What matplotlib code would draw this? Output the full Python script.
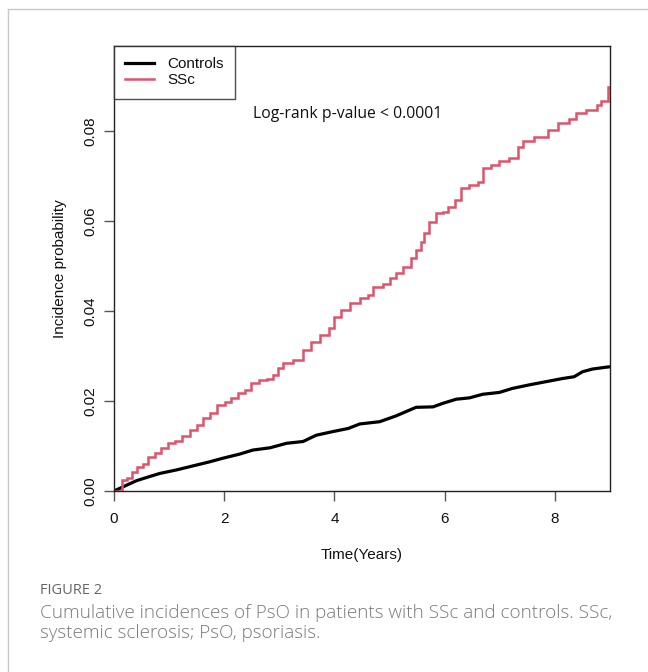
import matplotlib
matplotlib.use("Agg")
import matplotlib.pyplot as plt
from matplotlib.lines import Line2D

plt.rcParams['font.family'] = ['Liberation Sans', 'DejaVu Sans']

# SSc cumulative incidence (time in years, probability)
ssc_time = [0, 0.02, 0.14, 0.23, 0.32, 0.41, 0.53, 0.62, 0.74, 0.86, 0.98, 1.1, 1.23, 1.38,
            1.5, 1.62, 1.74, 1.86, 2.01, 2.13, 2.25, 2.37, 2.49, 2.64, 2.77, 2.89, 2.98,
            3.07, 3.25, 3.43, 3.58, 3.73, 3.91, 4.0, 4.12, 4.28, 4.46, 4.61, 4.7, 4.88,
            5.0, 5.12, 5.24, 5.39, 5.48, 5.57, 5.63, 5.72, 5.85, 5.97, 6.06, 6.18, 6.3,
            6.45, 6.6, 6.69, 6.84, 6.99, 7.17, 7.33, 7.42, 7.63, 7.87, 8.05, 8.26, 8.38,
            8.56, 8.77, 8.83, 8.96, 8.99]
ssc_prob = [0, 0, 0.0024, 0.0028, 0.0043, 0.0053, 0.0061, 0.0076, 0.0084, 0.0095, 0.0106,
            0.0111, 0.0122, 0.0136, 0.0147, 0.0162, 0.0173, 0.0191, 0.0198, 0.0206, 0.0217,
            0.0224, 0.0239, 0.0247, 0.0250, 0.0258, 0.0273, 0.0284, 0.0291, 0.0313, 0.0332,
            0.0347, 0.0362, 0.0387, 0.0402, 0.0418, 0.0428, 0.0436, 0.0454, 0.0461, 0.0473,
            0.0484, 0.0498, 0.0517, 0.0536, 0.0554, 0.0573, 0.0597, 0.0617, 0.0621, 0.0632,
            0.0647, 0.0673, 0.0680, 0.0687, 0.0717, 0.0724, 0.0733, 0.0739, 0.0765, 0.0778,
            0.0787, 0.0802, 0.0817, 0.0826, 0.0839, 0.0847, 0.0858, 0.0867, 0.0898, 0.0898]

# Controls cumulative incidence
ctrl_time = [0, 0.23, 0.41, 0.59, 0.83, 1.14, 1.44, 1.74, 1.98, 2.28, 2.52, 2.83, 3.13,
             3.43, 3.67, 3.97, 4.25, 4.46, 4.82, 5.12, 5.48, 5.79, 5.97, 6.21, 6.45, 6.69,
             6.99, 7.23, 7.54, 7.84, 8.14, 8.35, 8.5, 8.68, 8.92, 8.99]
ctrl_prob = [0, 0.0013, 0.0023, 0.0030, 0.0039, 0.0047, 0.0056, 0.0065, 0.0073, 0.0082,
             0.0091, 0.0096, 0.0106, 0.0110, 0.0124, 0.0132, 0.0139, 0.0149, 0.0154, 0.0167,
             0.0186, 0.0187, 0.0195, 0.0204, 0.0207, 0.0215, 0.0219, 0.0228, 0.0236, 0.0243,
             0.0250, 0.0254, 0.0265, 0.0271, 0.0275, 0.0276]

x_ticks = [0, 2, 4, 6, 8]
y_ticks = [0.00, 0.02, 0.04, 0.06, 0.08]
y_tick_labels = ["0.00", "0.02", "0.04", "0.06", "0.08"]

RED = "#DF536B"

fig = plt.figure(figsize=(6.48, 6.72), dpi=100)
fig.patch.set_facecolor("white")

# outer page frame
fig.add_artist(Line2D([8/648, 1.0], [1 - 9/672, 1 - 9/672], transform=fig.transFigure,
                      color="#c8c8c8", lw=1))
fig.add_artist(Line2D([8/648, 8/648], [0, 1 - 9/672], transform=fig.transFigure,
                      color="#c8c8c8", lw=1))

ax = fig.add_axes([114/648, 1 - 491/672, (610 - 114)/648, (491 - 46)/672])
ax.plot(ctrl_time, ctrl_prob, color="black", lw=2.3, solid_joinstyle="miter")
ax.step(ssc_time, ssc_prob, where="post", color=RED, lw=1.8, solid_joinstyle="miter")

ax.set_xlim(0, 9)
ax.set_ylim(0, 0.0989)
ax.set_xticks(x_ticks)
ax.set_xticklabels([str(t) for t in x_ticks])
ax.set_yticks(y_ticks)
ax.set_yticklabels(y_tick_labels, rotation=90, va="center")
ax.tick_params(axis="both", direction="out", length=7, width=1, color="#555555",
               labelsize=11, labelcolor="#111111")
ax.tick_params(axis="x", pad=8)
ax.tick_params(axis="y", pad=5)
for s in ax.spines.values():
    s.set_color("#222222")
    s.set_linewidth(1)

ax.set_xlabel("Time(Years)", fontsize=11, labelpad=16, color="#111111")
ax.set_ylabel("Incidence probability", fontsize=11, labelpad=12, color="#111111")

ax.text(4.24, 0.0838, "Log-rank p-value < 0.0001", ha="center", va="center",
        fontsize=11.3, family="Open Sans", color="#111111")

handles = [Line2D([], [], color="black", lw=2.3), Line2D([], [], color=RED, lw=1.8)]
leg = ax.legend(handles, ["Controls", "SSc"], loc="upper left", bbox_to_anchor=(0, 1),
                prop={"family": "Liberation Sans", "size": 11}, frameon=True,
                fancybox=False, handlelength=1.9, borderaxespad=0, labelspacing=0.12,
                handletextpad=0.85, borderpad=0.75)
leg.get_frame().set_edgecolor("#222222")
leg.get_frame().set_linewidth(1)
for t in leg.get_texts():
    t.set_color("#111111")

fig.text(40/648, 1 - 590/672, "FIGURE 2", fontsize=10.5, family="Open Sans",
         color="#666666", va="center", ha="left")
fig.text(40/648, 1 - 623/672,
         "Cumulative incidences of PsO in patients with SSc and controls. SSc,\n"
         "systemic sclerosis; PsO, psoriasis.",
         fontsize=13.6, family="Open Sans", color="#7a7a7a", va="center", ha="left",
         linespacing=1.15, fontweight="light")

fig.savefig("out.png", dpi=100, facecolor="white")
